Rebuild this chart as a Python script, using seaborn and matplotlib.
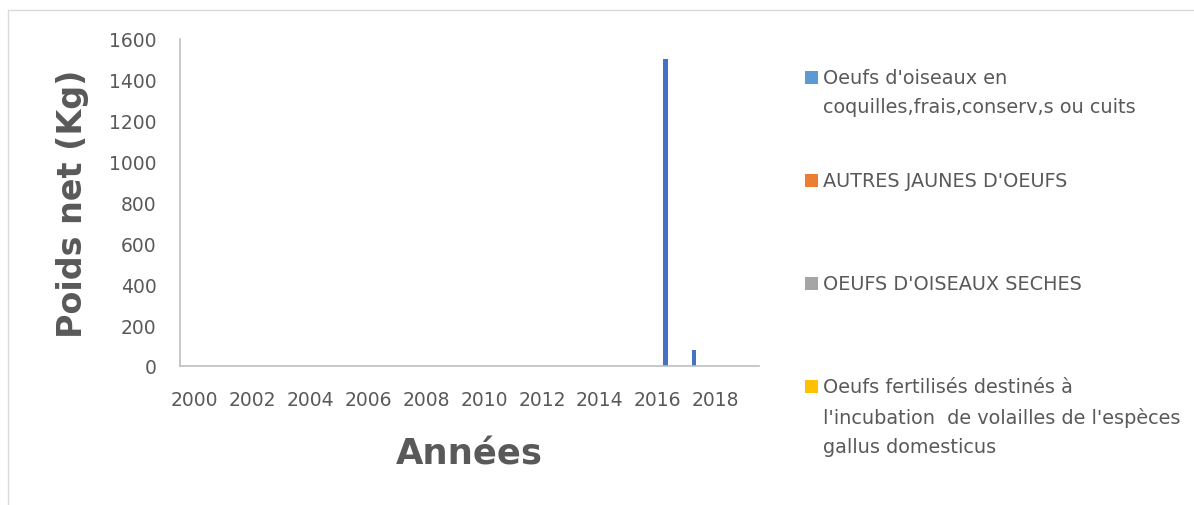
import pandas as pd
import matplotlib.pyplot as plt
from matplotlib.patches import Rectangle
import seaborn as sns

# Data
years = list(range(2000, 2020))
series_names = [
    "Oeufs d'oiseaux en\ncoquilles,frais,conserv,s ou cuits",
    "AUTRES JAUNES D'OEUFS",
    "OEUFS D'OISEAUX SECHES",
    "Oeufs fertilisés destinés à\nl'incubation  de volailles de l'espèces\ngallus domesticus",
]
oeufs_coquilles = [0] * 16 + [1500, 80, 0, 0]
autres_jaunes = [0] * 20
oeufs_seches = [0] * 20
oeufs_fertilises = [0] * 20

bar_colors = ["#4472C4", "#ED7D31", "#A5A5A5", "#FFC000"]
legend_colors = ["#5B9BD5", "#ED7D31", "#A5A5A5", "#FFC000"]

rows = []
for name, vals in zip(series_names, [oeufs_coquilles, autres_jaunes, oeufs_seches, oeufs_fertilises]):
    for y, v in zip(years, vals):
        rows.append({"Année": y, "Poids": v, "Produit": name})
df = pd.DataFrame(rows)

sns.set_style("white")
plt.rcParams["font.family"] = ["DejaVu Sans"]
grey = "#595959"

fig = plt.figure(figsize=(11.94, 5.06), dpi=100)
ax = fig.add_axes([180 / 1194, 1 - 367 / 506, 579 / 1194, 327 / 506])

# in the source chart the blue series sits in the right-most slot of each cluster
hue_order = series_names[::-1]
palette = dict(zip(series_names, bar_colors))
sns.barplot(data=df, x="Année", y="Poids", hue="Produit", hue_order=hue_order,
            palette=palette, saturation=1, dodge=True, width=0.68, legend=False,
            ax=ax, linewidth=0)

ax.set_ylim(0, 1600)
ax.set_yticks(range(0, 1601, 200))
ax.set_xticks(range(0, 20, 2))
ax.set_xticklabels([str(y) for y in years[::2]])
ax.tick_params(axis="y", length=0, pad=17, labelsize=13.5, labelcolor=grey)
ax.tick_params(axis="x", length=0, pad=17, labelsize=13.5, labelcolor=grey)

for s in ["top", "right"]:
    ax.spines[s].set_visible(False)
for s in ["left", "bottom"]:
    ax.spines[s].set_color("#BFBFBF")
    ax.spines[s].set_linewidth(1.2)

ax.set_xlabel("Années", fontsize=25.5, fontweight="bold", color=grey, labelpad=20)
ax.set_ylabel("Poids net (Kg)", fontsize=24, fontweight="bold", color=grey, labelpad=14)

# Legend (right side, handle aligned with first line)
for i, (name, col) in enumerate(zip(series_names, legend_colors)):
    yc = 1 - (78 + 103 * i) / 506
    fig.add_artist(Rectangle((805 / 1194, yc - 6.5 / 506), 13 / 1194, 13 / 506,
                             transform=fig.transFigure, color=col, lw=0))
    fig.text(823 / 1194, yc + 9 / 506, name, ha="left", va="top", fontsize=13.9,
             color=grey, linespacing=1.68)

# Chart border
fig.add_artist(Rectangle((8 / 1194, -0.2), 1.2, 1 - 11 / 506 + 0.2, transform=fig.transFigure,
                         fill=False, edgecolor="#D9D9D9", lw=1))

fig.savefig("out.png", dpi=100)
